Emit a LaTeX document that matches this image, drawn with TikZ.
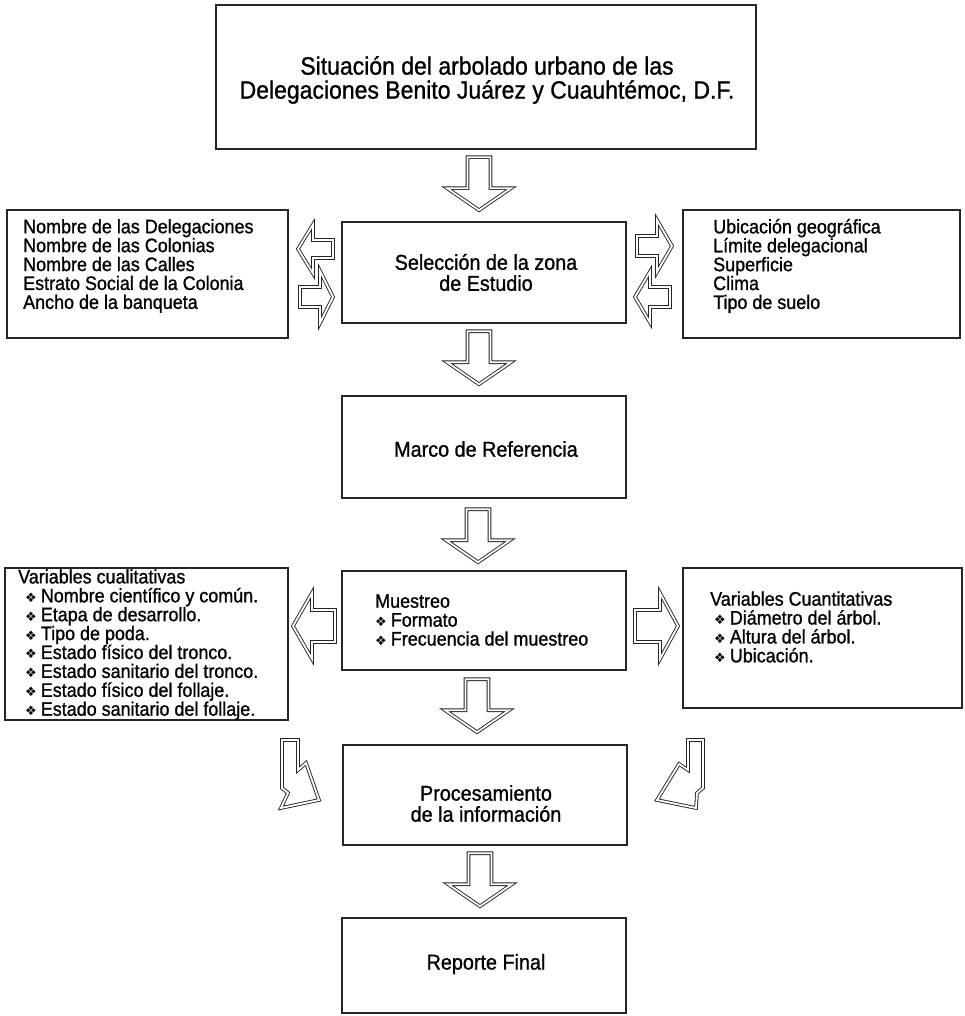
\documentclass[tikz,border=0pt]{standalone}
\usepackage{fontspec}
\setmainfont[FakeStretch=0.92,FakeBold=1]{Liberation Sans}
\newfontfamily\symfont{DejaVu Sans}
\newcommand{\bul}{{\symfont\fontsize{13}{13}\selectfont ❖}\hspace{4pt}}
\usetikzlibrary{calc}
\begin{document}
\begin{tikzpicture}[x=1pt,y=-1pt,
  box/.style={draw=black!85, line width=1.6pt, inner sep=0pt},
  lbl/.style={inner sep=0pt, align=left, anchor=west, font=\fontsize{19.5}{18.9}\selectfont},
  ctr/.style={inner sep=0pt, align=center, font=\fontsize{21.5}{21}\selectfont},
  barrow/.style={draw=black!85, double=white, double distance=1.8pt, line width=0.9pt, line join=miter},
  pics/dnarrow/.style={code={\draw[barrow] (-11.5,-53) -- (11.5,-53) -- (11.5,-22) -- (32,-22) -- (0,0) -- (-32,-22) -- (-11.5,-22) -- cycle;}},
  pics/larrow/.style n args={4}{code={\draw[barrow] (0,0) -- (#1,-#3) -- (#1,-#4) -- (#2,-#4) -- (#2,#4) -- (#1,#4) -- (#1,#3) -- cycle;}}
]
\useasboundingbox (0,0) rectangle (964,1016);
\fill[white] (0,0) rectangle (964,1016);

% boxes
\node[box, minimum width=540pt, minimum height=144pt] (top) at (486,77) {};
\node[ctr, font=\fontsize{25}{24}\selectfont] (toptxt) at (487,80) {Situación del arbolado urbano de las\\Delegaciones Benito Juárez y Cuauhtémoc, D.F.};

\node[box, minimum width=284pt, minimum height=101pt] (sel) at (484,272.5) {};
\node[ctr] (seltxt) at (486,272.5) {Selección de la zona\\de Estudio};

\node[box, minimum width=284pt, minimum height=102pt] (marco) at (484,447) {};
\node[ctr] (marcotxt) at (486,449) {Marco de Referencia};

\node[box, minimum width=284pt, minimum height=99pt] (mues) at (484,620.5) {};
\node[lbl] (muestxt) at (375,620) {Muestreo\\\bul Formato\\\bul Frecuencia del muestreo};

\node[box, minimum width=284pt, minimum height=100pt] (proc) at (485,795) {};
\node[ctr] (proctxt) at (486,803.5) {Procesamiento\\de la información};

\node[box, minimum width=284pt, minimum height=95pt] (rep) at (484,965.5) {};
\node[ctr] (reptxt) at (486,964) {Reporte Final};

\node[box, minimum width=281pt, minimum height=128pt] (l1) at (147.5,274) {};
\node[lbl] (l1txt) at (23,266) {Nombre de las Delegaciones\\Nombre de las Colonias\\Nombre de las Calles\\Estrato Social de la Colonia\\Ancho de la banqueta};

\node[box, minimum width=277pt, minimum height=128pt] (r1) at (821.5,274) {};
\node[lbl] (r1txt) at (713,266) {Ubicación geográfica\\Límite delegacional\\Superficie\\Clima\\Tipo de suelo};

\node[box, minimum width=283pt, minimum height=152pt] (l2) at (146.5,644) {};
\node[lbl] (l2txt) at (18,644.5) {Variables cualitativas\\
\hspace*{7pt}\bul Nombre científico y común.\\
\hspace*{7pt}\bul Etapa de desarrollo.\\
\hspace*{7pt}\bul Tipo de poda.\\
\hspace*{7pt}\bul Estado físico del tronco.\\
\hspace*{7pt}\bul Estado sanitario del tronco.\\
\hspace*{7pt}\bul Estado físico del follaje.\\
\hspace*{7pt}\bul Estado sanitario del follaje.};

\node[box, minimum width=279pt, minimum height=140pt] (r2) at (822.5,638) {};
\node[lbl] (r2txt) at (710,627) {Variables Cuantitativas\\
\hspace*{4pt}\bul Diámetro del árbol.\\
\hspace*{4pt}\bul Altura del árbol.\\
\hspace*{4pt}\bul Ubicación.};

% vertical block arrows
\pic at ($(sel.north)+(-5,-11)$) {dnarrow};
\pic at ($(marco.north)+(-5,-11)$) {dnarrow};
\pic at ($(mues.north)+(-6,-8)$) {dnarrow};
\pic at ($(proc.north)+(-8,-12)$) {dnarrow};
\pic at ($(rep.north)+(-4,-11)$) {dnarrow};

% side block arrows
\pic at (298,249) {larrow={15}{35}{24.5}{9}};
\pic[xscale=-1] at (333,297) {larrow={13}{33}{26}{10}};
\pic[xscale=-1] at (672,246) {larrow={15}{35}{26}{10}};
\pic at (635,297) {larrow={15}{35}{25.5}{10}};
\pic at (293,626) {larrow={19}{42}{33}{16}};
\pic[xscale=-1] at (678,626) {larrow={18}{43}{33}{16}};

% bent arrows
\draw[barrow] (282,740) -- (298,740) -- (298,770) -- (306,763) -- (319,800) -- (281,808) -- (288,793) -- (282,788) -- cycle;
\draw[barrow] (703,740) -- (688,740) -- (688,770) -- (679,764) -- (657,800) -- (696,808) -- (697,793) -- (703,788) -- cycle;
\end{tikzpicture}
\end{document}
